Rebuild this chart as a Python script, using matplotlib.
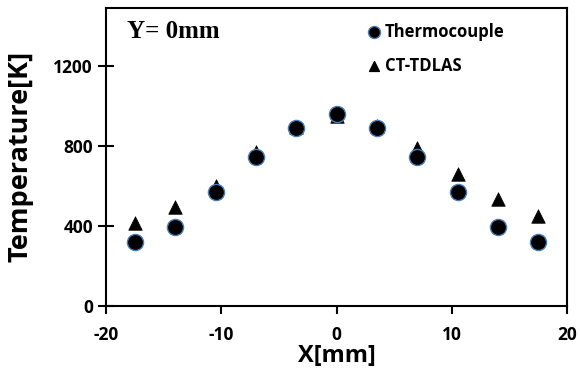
import matplotlib.pyplot as plt

# 測定位置 (mm)
x_pos = [-17.5, -14, -10.5, -7, -3.5, 0, 3.5, 7, 10.5, 14, 17.5]
# 熱電対の温度 (K)
t_thermo = [320, 392, 570, 745, 888, 958, 888, 745, 570, 392, 320]
# CT-TDLAS の温度 (K)
t_tdlas = [412, 493, 600, 768, 893, 948, 900, 790, 658, 536, 448]

plt.rcParams['font.family'] = ['Open Sans', 'DejaVu Sans']
plt.rcParams['axes.unicode_minus'] = False

fig = plt.figure(figsize=(5.8, 3.75), dpi=100)
ax = fig.add_axes([0.183, 0.185, 0.795, 0.794])

ax.scatter(x_pos, t_thermo, s=135, marker='o', facecolor='black',
           edgecolor='#4a7fb5', linewidth=1.0, zorder=3)
ax.scatter(x_pos, t_tdlas, s=95, marker='^', facecolor='black',
           edgecolor='black', linewidth=0.5, zorder=2)

ax.set_xlim(-20, 20)
ax.set_ylim(0, 1490)
ax.set_xticks([-20, -10, 0, 10, 20])
ax.set_yticks([0, 400, 800, 1200])

for s in ax.spines.values():
    s.set_linewidth(1.5)
    s.set_color('black')

ax.tick_params(axis='y', direction='inout', length=11, width=1.5,
               labelsize=12.5, pad=4)
ax.tick_params(axis='x', direction='out', length=6, width=1.5,
               labelsize=12.5, pad=9)
for lbl in ax.get_xticklabels() + ax.get_yticklabels():
    lbl.set_fontweight('bold')

ax.set_xlabel('X[mm]', fontsize=17, fontweight='bold', labelpad=0)
ax.set_ylabel('Temperature[K]', fontsize=19.5, fontweight='bold', labelpad=14)

# タイトル代わりのテキスト
ax.text(0.045, 0.92, 'Y= 0mm', transform=ax.transAxes, fontsize=18,
        fontweight='bold', family='Liberation Serif', va='center')

# 凡例 (手書き風)
ax.scatter([0.58], [0.92], transform=ax.transAxes, s=75, marker='o',
           facecolor='black', edgecolor='#4a7fb5', linewidth=1.0, clip_on=False)
ax.text(0.605, 0.92, 'Thermocouple', transform=ax.transAxes, fontsize=12,
        fontweight='bold', va='center')
ax.scatter([0.58], [0.805], transform=ax.transAxes, s=50, marker='^',
           facecolor='black', edgecolor='black', clip_on=False)
ax.text(0.605, 0.805, 'CT-TDLAS', transform=ax.transAxes, fontsize=12,
        fontweight='bold', va='center')

fig.savefig('out.png', dpi=100)
